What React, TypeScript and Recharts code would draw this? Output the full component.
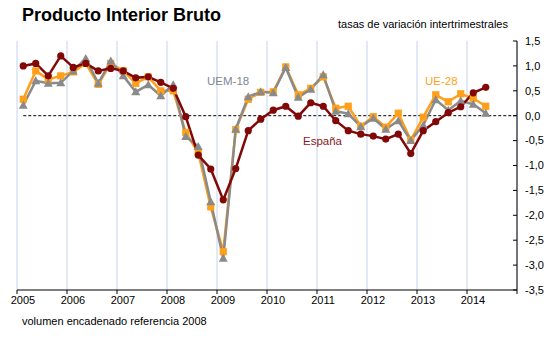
import { CartesianGrid, Line, LineChart, ReferenceLine, XAxis, YAxis } from 'recharts';

const years = [2005, 2006, 2007, 2008, 2009, 2010, 2011, 2012, 2013, 2014];

// tasas intertrimestrales, 2005T1 .. 2014T2
const espana = [
  1.0, 1.05, 0.8, 1.2, 0.97, 1.05, 0.9, 0.95, 0.9, 0.76, 0.78, 0.67, 0.55, -0.02, -0.79, -1.07,
  -1.69, -1.06, -0.3, -0.07, 0.11, 0.19, -0.01, 0.26, 0.19, -0.1, -0.3, -0.37, -0.41, -0.47, -0.37,
  -0.76, -0.3, -0.12, 0.06, 0.18, 0.46, 0.57,
];
const ue28 = [
  0.33, 0.9, 0.73, 0.8, 0.88, 1.05, 0.63, 1.05, 0.9, 0.65, 0.78, 0.5, 0.5, -0.34, -0.74, -1.83,
  -2.73, -0.28, 0.33, 0.47, 0.48, 0.98, 0.42, 0.55, 0.78, 0.15, 0.19, -0.21, -0.02, -0.23, 0.05,
  -0.49, -0.03, 0.42, 0.28, 0.44, 0.35, 0.19,
];
const uem18 = [
  0.21, 0.7, 0.65, 0.66, 0.9, 1.15, 0.65, 1.1, 0.8, 0.48, 0.62, 0.4, 0.62, -0.42, -0.62, -1.73,
  -2.86, -0.27, 0.38, 0.48, 0.46, 0.97, 0.37, 0.53, 0.82, 0.09, 0.04, -0.22, -0.05, -0.27, -0.1,
  -0.5, -0.19, 0.32, 0.11, 0.3, 0.23, 0.05,
];
const yTicks = [1.5, 1, 0.5, 0, -0.5, -1, -1.5, -2, -2.5, -3, -3.5];

const RED = '#820808';
const ORANGE = '#ff9f1a';
const GRAY = '#8a8a8a';
const FONT = '"Liberation Sans", Arial, sans-serif';

// quarter i sits in the middle of its quarter slot
const data = espana.map((v, i) => ({ q: i + 0.5, espana: v, ue28: ue28[i], uem18: uem18[i] }));
const xTicks = [...years.map((_, i) => i * 4), 40];

const CircleDot = (p: any) => <circle cx={p.cx} cy={p.cy} r={3.6} fill={RED} />;
const SquareDot = (p: any) => <rect x={p.cx - 3.6} y={p.cy - 3.6} width={7.2} height={7.2} fill={ORANGE} />;
const TriDot = (p: any) => (
  <polygon
    points={`${p.cx},${p.cy - 4.5} ${p.cx + 4.5},${p.cy + 3.5} ${p.cx - 4.5},${p.cy + 3.5}`}
    fill={GRAY}
  />
);

const YTick = (p: any) => (
  <g>
    <line x1={p.x - 12} x2={p.x - 8} y1={p.y} y2={p.y} stroke="#000" />
    <text x={p.x} y={p.y} dy="0.35em" fontSize={11} fill="#000" fontFamily={FONT}>
      {p.payload.value.toFixed(1).replace('.', ',')}
    </text>
  </g>
);

const label = (text: string, left: number, top: number, color: string, size = 11, bold = false) => (
  <div
    style={{
      position: 'absolute',
      left,
      top,
      fontSize: size,
      fontWeight: bold ? 'bold' : 'normal',
      color,
      fontFamily: FONT,
      whiteSpace: 'nowrap',
      lineHeight: 1,
    }}
  >
    {text}
  </div>
);

export default function App() {
  return (
    <div style={{ position: 'absolute', left: 0, top: 0, width: 560, height: 341, background: '#fff' }}>
      <LineChart
        width={560}
        height={341}
        data={data}
        margin={{ top: 41, right: 0, left: 17, bottom: 0 }}
      >
        <CartesianGrid horizontal={false} stroke="#c8d4ea" />
        <XAxis
          type="number"
          dataKey="q"
          domain={[0, 40]}
          ticks={xTicks}
          height={51}
          stroke="#000"
          tickSize={4}
          tick={{ fontSize: 11, fill: '#000', fontFamily: FONT, dx: 6 }}
          tickFormatter={(v: number) => (v < 40 ? String(years[v / 4]) : '')}
        />
        <YAxis
          orientation="right"
          domain={[-3.5, 1.5]}
          ticks={yTicks}
          width={43}
          stroke="#000"
          tickLine={false}
          tick={<YTick />}
        />
        <ReferenceLine
          segment={[
            { x: 0.5, y: 0 },
            { x: 40, y: 0 },
          ]}
          stroke="#000"
          strokeDasharray="3 2"
        />
        <Line type="linear" dataKey="ue28" stroke={ORANGE} strokeWidth={2.5} dot={<SquareDot />} isAnimationActive={false} />
        <Line type="linear" dataKey="uem18" stroke={GRAY} strokeWidth={2.5} dot={<TriDot />} isAnimationActive={false} />
        <Line type="linear" dataKey="espana" stroke={RED} strokeWidth={2.5} dot={<CircleDot />} isAnimationActive={false} />
      </LineChart>
      {label('Producto Interior Bruto', 22, 6, '#000', 18, true)}
      {label('tasas de variación intertrimestrales', 338, 19, '#000')}
      {label('UEM-18', 207, 76, '#7f8794', 11.5)}
      {label('España', 303, 136, '#8b1a1a', 11.5)}
      {label('UE-28', 425, 76, '#ff9f1a', 11.5)}
      {label('volumen encadenado referencia 2008', 22, 316, '#000')}
    </div>
  );
}
